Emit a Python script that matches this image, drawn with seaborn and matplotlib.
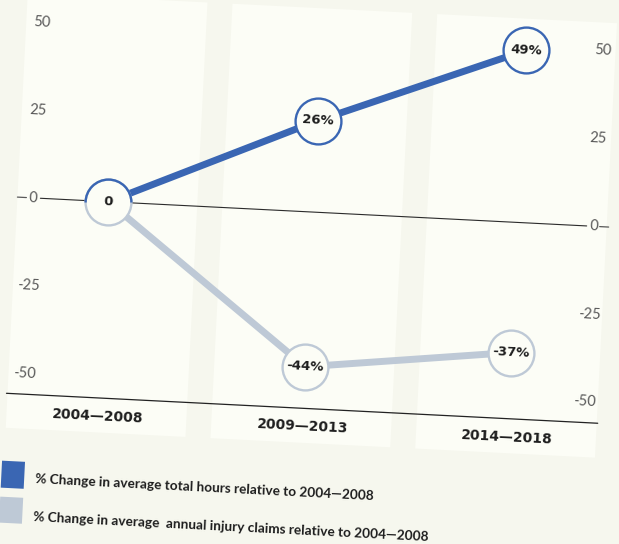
import matplotlib
matplotlib.use("Agg")
import matplotlib.pyplot as plt
from matplotlib import font_manager
from matplotlib.patches import Rectangle
from matplotlib.path import Path
from matplotlib.transforms import Affine2D
import pandas as pd
import seaborn as sns

# Data
periods = ["2004—2008", "2009—2013", "2014—2018"]
hours_change = [0, 26, 49]
claims_change = [0, -44, -37]
hours_labels = ["0", "26%", "49%"]
claims_labels = ["0", "-44%", "-37%"]
y_ticks = [-50, -25, 0, 25, 50]
legend_labels = [
    "% Change in average total hours relative to 2004—2008",
    "% Change in average  annual injury claims relative to 2004—2008",
]

BLUE = "#3a66b3"
GREY = "#bec9d6"
BG = "#f6f7ee"
PANEL = "#fcfdf6"
TICK = "#585858"
INK = "#1e1e1e"

sns.set_theme(style="white")
plt.rcParams["font.family"] = ["DejaVu Sans"]

font_names = {f.name for f in font_manager.fontManager.ttflist}


def pick(*fams):
    for f in fams:
        if f in font_names:
            return f
    return "DejaVu Sans"


narrow = pick("Liberation Sans Narrow", "Lato", "Roboto", "Liberation Sans")
light = pick("Lato", "Open Sans", "DejaVu Sans")

W, H = 619, 544
X0, DX = 105, 205   # pixel x of first period, pixels per period
Y0, DY = 212, 3.52  # pixel y (from top) of zero, pixels per percent point
TILT = -2.9         # whole chart is turned slightly clockwise


def vx(px):
    return (px - X0) / DX


def vy(py):
    return (Y0 - py) / DY


fig = plt.figure(figsize=(W / 100, H / 100), dpi=100, facecolor=BG)
ax = fig.add_axes([0, 0, 1, 1])
ax.set_xlim(vx(0), vx(W))
ax.set_ylim(vy(H), vy(0))
ax.axis("off")

# light column panels
for i in range(len(periods)):
    ax.add_patch(Rectangle((i - 91 / DX, vy(443)), 180 / DX, vy(8) - vy(443),
                           facecolor=PANEL, edgecolor="none", zorder=0))

# zero line with little tick dashes beyond the labels
ax.plot([vx(37), vx(584)], [0, 0], color="#2b2b2b", lw=0.8, zorder=1)
ax.plot([vx(14), vx(23)], [0, 0], color=TICK, lw=0.9, zorder=1)
ax.plot([vx(597), vx(606)], [0, 0], color=TICK, lw=0.9, zorder=1)
# bottom axis line
ax.plot([vx(13), vx(605)], [vy(408.5), vy(408.5)], color="#222222", lw=0.9, zorder=1)

for v in y_ticks:
    ax.text(vx(30), v, str(v), ha="center", va="center", color=TICK,
            fontsize=10.5, family=light)
    ax.text(vx(591), v, str(v), ha="center", va="center", color=TICK,
            fontsize=10.5, family=light)

for i, p in enumerate(periods):
    ax.text(i, vy(427), p, ha="center", va="center", color=INK,
            fontsize=10, fontweight="bold")

df = pd.DataFrame({
    "idx": list(range(3)) * 2,
    "value": hours_change + claims_change,
    "series": ["hours"] * 3 + ["claims"] * 3,
})
sns.lineplot(data=df, x="idx", y="value", hue="series",
             palette={"hours": BLUE, "claims": GREY}, linewidth=5,
             errorbar=None, legend=False, ax=ax, zorder=3)

ms, mew = 33, 1.7
# first point is shared: grey ring with a blue top half
ax.plot([0], [claims_change[0]], ls="none", marker="o", ms=ms, mfc=PANEL,
        mec=GREY, mew=mew, zorder=4)
ax.plot([0], [hours_change[0]], ls="none", marker=Path.arc(0, 180), ms=ms,
        mfc="none", mec=BLUE, mew=mew, zorder=5)
ax.plot(range(1, 3), hours_change[1:], ls="none", marker="o", ms=ms, mfc=PANEL,
        mec=BLUE, mew=mew, zorder=4)
ax.plot(range(1, 3), claims_change[1:], ls="none", marker="o", ms=ms, mfc=PANEL,
        mec=GREY, mew=mew, zorder=4)

ax.text(0, hours_change[0], hours_labels[0], ha="center", va="center",
        color=INK, fontsize=9.5, fontweight="bold", zorder=6)
for i in range(1, 3):
    ax.text(i, hours_change[i], hours_labels[i], ha="center", va="center",
            color=INK, fontsize=9.5, fontweight="bold", zorder=6)
    ax.text(i, claims_change[i], claims_labels[i], ha="center", va="center",
            color=INK, fontsize=9.5, fontweight="bold", zorder=6)

# legend
ax.add_patch(Rectangle((vx(12), vy(503)), 23 / DX, vy(476) - vy(503),
                       facecolor=BLUE, edgecolor="none", zorder=2))
ax.add_patch(Rectangle((vx(12), vy(538)), 23 / DX, vy(512) - vy(538),
                       facecolor=GREY, edgecolor="none", zorder=2))
leg_texts = []
for label, py, target in [(legend_labels[0], 492.5, 338), (legend_labels[1], 531, 397)]:
    t = ax.text(vx(46), vy(py), label, ha="left", va="center", color=INK,
                fontsize=10, fontweight="bold", family=narrow)
    leg_texts.append((t, target))

fig.canvas.draw()
r = fig.canvas.get_renderer()
for t, target in leg_texts:
    w = t.get_window_extent(renderer=r).width
    t.set_fontsize(10 * target / w)

# turn everything by the small tilt
rot = Affine2D().rotate_deg_around(310, H - 272, TILT)
for art in list(ax.lines) + list(ax.patches):
    art.set_transform(ax.transData + rot)
for t in ax.texts:
    t.set_transform(ax.transData + rot)
    t.set_rotation(TILT)
    t.set_rotation_mode("anchor")

fig.savefig("out.png", dpi=100, facecolor=BG)
